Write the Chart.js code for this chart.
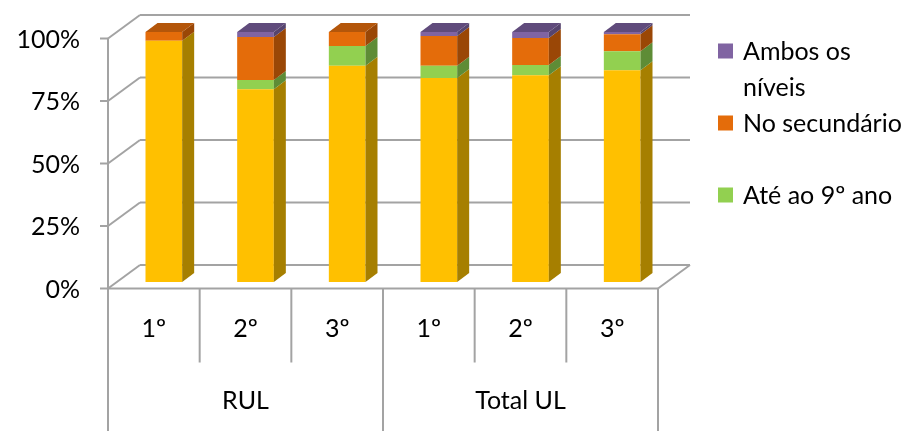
<!DOCTYPE html>
<html>
<head>
<meta charset="utf-8">
<script src="https://cdn.jsdelivr.net/npm/chart.js@4.4.0/dist/chart.umd.min.js"></script>
<style>
  html, body { margin: 0; padding: 0; background: #fff; }
  #wrap { width: 910px; height: 431px; position: relative; }
</style>
</head>
<body>
<div id="wrap"><canvas id="grafico" width="910" height="431"></canvas></div>
<script>
// dados (percentagens)
const niveis = ["1º", "2º", "3º", "1º", "2º", "3º"];
const grupos = ["RUL", "Total UL"];
const nenhum = [96.5, 77.1, 86.5, 81.6, 82.7, 84.7];
const ate9ano = [0, 3.7, 7.9, 4.9, 4.1, 7.6];
const noSecundario = [3.5, 17.2, 5.6, 11.9, 10.8, 6.8];
const ambosNiveis = [0, 2.0, 0, 1.6, 2.4, 0.9];
const yTicks = [0, 25, 50, 75, 100];

// texto da legenda (já partido em linhas como no original)
const legenda = [
    { linhas: ["Ambos os", "níveis"], cor: "#8064A2", y: 51 },
    { linhas: ["No secundário"], cor: "#E46C0A", y: 123 },
    { linhas: ["Até ao 9º ano"], cor: "#92D050", y: 195 }
];

const FONTE = "25px Lato";
const LINHA = "#a3a3a3";
const frente = { dx: -10, dy: 6.5 };    // plano da frente em relação às barras
const fundo = { dx: 22, dy: -17 };      // parede do fundo
const prof = { dx: 12, dy: -9 };        // profundidade das barras

const cores = [
    { frente: "#FFC000", lado: "#A67F00", topo: "#C99700" },
    { frente: "#92D050", lado: "#5E8C36", topo: "#70A33C" },
    { frente: "#E46C0A", lado: "#9A4706", topo: "#B4560A" },
    { frente: "#8064A2", lado: "#56446E", topo: "#604B7C" }
];

function linha(ctx, x1, y1, x2, y2) {
    ctx.beginPath();
    ctx.moveTo(x1, y1);
    ctx.lineTo(x2, y2);
    ctx.stroke();
}

function poligono(ctx, pts, cor) {
    ctx.beginPath();
    ctx.moveTo(pts[0][0], pts[0][1]);
    for (let i = 1; i < pts.length; i++) ctx.lineTo(pts[i][0], pts[i][1]);
    ctx.closePath();
    ctx.fillStyle = cor;
    ctx.fill();
}

const cena3d = {
    id: "cena3d",
    beforeDatasetsDraw(chart) {
        const ctx = chart.ctx;
        const xs = chart.scales.x, ys = chart.scales.y;
        ctx.save();
        ctx.strokeStyle = LINHA;
        ctx.lineWidth = 2;
        const xl = xs.left, xr = xs.right;
        yTicks.forEach(v => {
            const y = ys.getPixelForValue(v);
            // diagonal da parede esquerda
            linha(ctx, xl + frente.dx, y + frente.dy, xl + fundo.dx, y + fundo.dy);
            // linha de grelha no fundo
            linha(ctx, xl + fundo.dx, y + fundo.dy, xr + fundo.dx, y + fundo.dy);
            // traço do eixo
            linha(ctx, xl + frente.dx - 8, y + frente.dy, xl + frente.dx, y + frente.dy);
        });
        const y0 = ys.getPixelForValue(0), y100 = ys.getPixelForValue(100);
        // eixo vertical da frente
        linha(ctx, xl + frente.dx, y100 + frente.dy, xl + frente.dx, y0 + frente.dy);
        // chão
        linha(ctx, xl + frente.dx, y0 + frente.dy, xr + frente.dx, y0 + frente.dy);
        linha(ctx, xr + frente.dx, y0 + frente.dy, xr + fundo.dx, y0 + fundo.dy);
        ctx.restore();
    },
    afterDatasetsDraw(chart) {
        const ctx = chart.ctx;
        const n = niveis.length;
        ctx.save();
        for (let i = 0; i < n; i++) {
            let topo = -1;
            chart.data.datasets.forEach((ds, d) => { if (ds.data[i] > 0) topo = d; });
            chart.data.datasets.forEach((ds, d) => {
                if (!(ds.data[i] > 0)) return;
                const el = chart.getDatasetMeta(d).data[i];
                const xd = el.x + el.width / 2;
                const xe = el.x - el.width / 2;
                poligono(ctx, [[xd, el.y], [xd + prof.dx, el.y + prof.dy],
                    [xd + prof.dx, el.base + prof.dy], [xd, el.base]], cores[d].lado);
                if (d === topo) {
                    poligono(ctx, [[xe, el.y], [xe + prof.dx, el.y + prof.dy],
                        [xd + prof.dx, el.y + prof.dy], [xd, el.y]], cores[d].topo);
                }
            });
        }
        ctx.restore();
    },
    afterDraw(chart) {
        const ctx = chart.ctx;
        const xs = chart.scales.x, ys = chart.scales.y;
        const n = niveis.length;
        const cw = (xs.right - xs.left) / n;
        const y0 = ys.getPixelForValue(0) + frente.dy;
        ctx.save();
        ctx.font = FONTE;
        ctx.fillStyle = "#000";
        // rótulos do eixo y
        ctx.textAlign = "right";
        ctx.textBaseline = "middle";
        yTicks.forEach(v => {
            ctx.fillText(v + "%", xs.left + frente.dx - 28, ys.getPixelForValue(v) + frente.dy + 1);
        });
        // caixa das categorias
        ctx.strokeStyle = LINHA;
        ctx.lineWidth = 2;
        for (let i = 0; i <= n; i++) {
            const x = xs.left + frente.dx + i * cw;
            const fim = (i % 3 === 0) ? chart.height : y0 + 74;
            linha(ctx, x, y0, x, fim);
        }
        ctx.textAlign = "center";
        niveis.forEach((t, i) => {
            ctx.fillText(t, xs.getPixelForValue(i) + frente.dx, y0 + 40);
        });
        grupos.forEach((g, k) => {
            ctx.fillText(g, xs.left + frente.dx + (k * 3 + 1.5) * cw, y0 + 112);
        });
        // legenda
        ctx.textAlign = "left";
        legenda.forEach(item => {
            ctx.fillStyle = item.cor;
            ctx.fillRect(718, item.y - 7.5, 15, 15);
            ctx.fillStyle = "#000";
            item.linhas.forEach((t, j) => ctx.fillText(t, 743, item.y + 1 + j * 36));
        });
        ctx.restore();
    }
};

const dados = [nenhum, ate9ano, noSecundario, ambosNiveis];
const nomes = ["Nenhum", "Até ao 9º ano", "No secundário", "Ambos os níveis"];

new Chart(document.getElementById("grafico").getContext("2d"), {
    type: "bar",
    data: {
        labels: niveis,
        datasets: dados.map((d, k) => ({
            label: nomes[k],
            data: d,
            backgroundColor: cores[k].frente,
            borderWidth: 0,
            barPercentage: 0.4,
            categoryPercentage: 1
        }))
    },
    options: {
        responsive: false,
        animation: false,
        devicePixelRatio: 1,
        layout: { padding: { left: 118, right: 242, top: 32, bottom: 149 } },
        plugins: { legend: { display: false }, tooltip: { enabled: false } },
        scales: {
            x: { stacked: true, display: false },
            y: { stacked: true, display: false, min: 0, max: 100, ticks: { stepSize: 25 } }
        }
    },
    plugins: [cena3d]
});
</script>
</body>
</html>
